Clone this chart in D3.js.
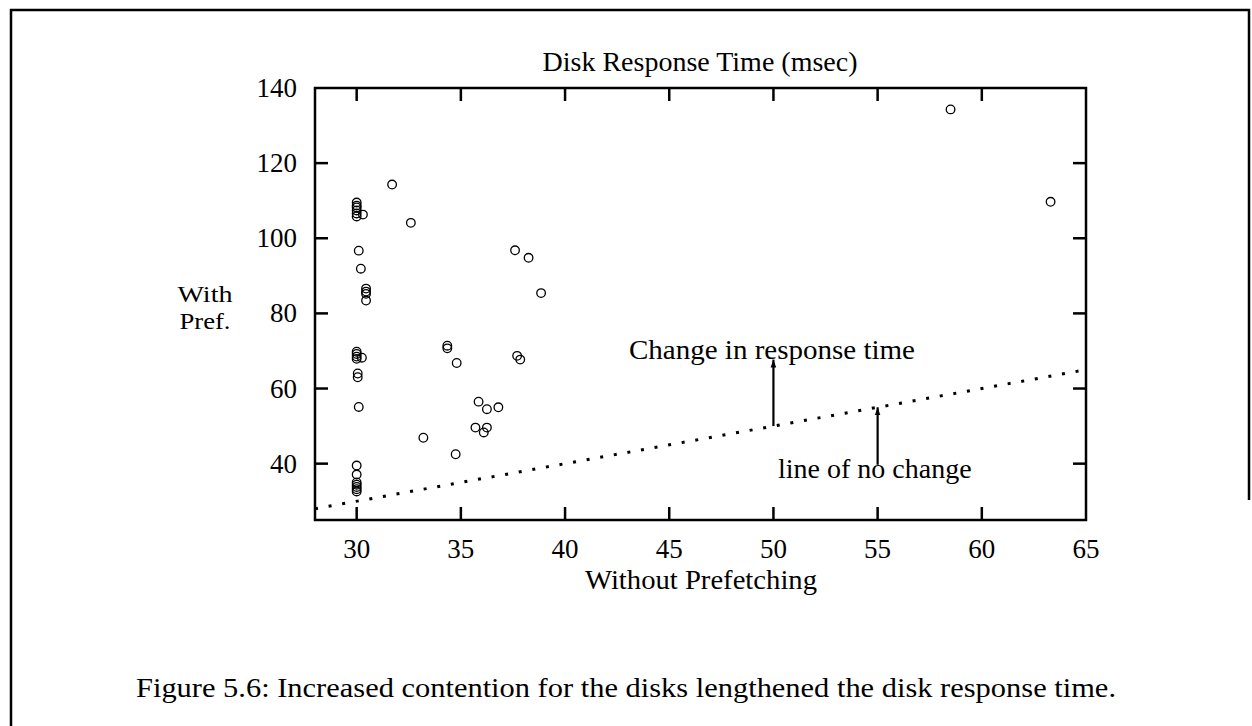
<!DOCTYPE html>
<html>
<head>
<meta charset="utf-8">
<script src="https://cdn.jsdelivr.net/npm/d3@7"></script>
<style>
  html, body { margin: 0; padding: 0; background: #fff; }
  text { font-family: "Liberation Serif", "Times New Roman", serif; fill: #000; }
</style>
</head>
<body>
<svg id="chart" width="1252" height="726"></svg>
<script>
// Data: disk response time (msec) without prefetching (x) vs with prefetching (y)
const withoutPref = [31.7, 32.6, 30.0, 30.0, 30.0, 30.0, 30.0, 30.0, 30.3, 30.1, 30.2,
  30.45, 30.45, 30.45, 30.45, 30.0, 30.0, 30.0, 30.0, 30.25, 30.05, 30.05, 30.1,
  30.0, 30.0, 30.0, 30.0, 30.0, 30.0, 30.0,
  34.35, 34.35, 34.8, 33.2, 34.75, 35.85, 36.25, 36.8, 35.7, 36.1, 36.25,
  37.6, 38.25, 38.85, 37.7, 37.85, 58.5, 63.3];
const withPref = [114.3, 104.1, 109.5, 108.7, 108.2, 107.4, 106.6, 105.8, 106.3, 96.7, 91.9,
  86.6, 85.8, 85.2, 83.4, 69.8, 69.2, 68.5, 67.9, 68.2, 64.0, 63.0, 55.1,
  39.5, 37.1, 35.0, 34.4, 33.8, 33.2, 32.6,
  71.4, 70.7, 66.8, 46.9, 42.5, 56.5, 54.5, 55.0, 49.6, 48.3, 49.6,
  96.8, 94.8, 85.4, 68.7, 67.7, 134.3, 109.7];
const xTicks = [30, 35, 40, 45, 50, 55, 60, 65];
const yTicks = [40, 60, 80, 100, 120, 140];
const xDomain = [28, 65];
const yDomain = [25, 140];
const noChangeLine = [28, 65];          // y = x
const arrowChange = {x: 50, y0: 50, y1: 67.7};
const arrowNoChange = {x: 55, y0: 39.7, y1: 55};
const titleText = "Disk Response Time (msec)";
const xLabelText = "Without Prefetching";
const yLabelLines = ["With", "Pref."];
const captionText = "Figure 5.6: Increased contention for the disks lengthened the disk response time.";
const labelChange = "Change in response time";
const labelNoChange = "line of no change";

const svg = d3.select("#chart");
const L = 315, R = 1086, T = 88, B = 520;
const x = d3.scaleLinear().domain(xDomain).range([L, R]);
const y = d3.scaleLinear().domain(yDomain).range([B, T]);
const FS = 28;

// page frame
svg.append("path")
  .attr("d", `M11,726 L11,10 L1249,10 L1249,500`)
  .attr("fill", "none").attr("stroke", "#000").attr("stroke-width", 2.5);

// plot frame
svg.append("rect").attr("x", L).attr("y", T).attr("width", R - L).attr("height", B - T)
  .attr("fill", "none").attr("stroke", "#000").attr("stroke-width", 2.5);

const TL = 13;
const tickStyle = g => g.attr("stroke", "#000").attr("stroke-width", 2.5);
const inner = xTicks.filter(v => v > xDomain[0] && v < xDomain[1]);
svg.append("g").call(tickStyle).selectAll("line").data(inner).join("line")
  .attr("x1", d => x(d)).attr("x2", d => x(d)).attr("y1", B).attr("y2", B - TL);
svg.append("g").call(tickStyle).selectAll("line").data(inner).join("line")
  .attr("x1", d => x(d)).attr("x2", d => x(d)).attr("y1", T).attr("y2", T + TL);
const innerY = yTicks.filter(v => v > yDomain[0] && v < yDomain[1]);
svg.append("g").call(tickStyle).selectAll("line").data(innerY).join("line")
  .attr("y1", d => y(d)).attr("y2", d => y(d)).attr("x1", L).attr("x2", L + TL);
svg.append("g").call(tickStyle).selectAll("line").data(innerY).join("line")
  .attr("y1", d => y(d)).attr("y2", d => y(d)).attr("x1", R).attr("x2", R - TL);

// tick labels
svg.append("g").selectAll("text").data(xTicks).join("text")
  .attr("x", d => x(d)).attr("y", B + 38).attr("text-anchor", "middle")
  .attr("font-size", 27).text(d => d);
svg.append("g").selectAll("text").data(yTicks).join("text")
  .attr("x", L - 18).attr("y", d => y(d) + 9).attr("text-anchor", "end")
  .attr("font-size", 27).text(d => d);

// titles
svg.append("text").attr("x", 700).attr("y", 71).attr("text-anchor", "middle")
  .attr("font-size", FS).text(titleText);
svg.append("text").attr("x", 701).attr("y", 589).attr("text-anchor", "middle")
  .attr("font-size", FS).attr("textLength", 232).attr("lengthAdjust", "spacingAndGlyphs")
  .text(xLabelText);
svg.append("g").selectAll("text").data(yLabelLines).join("text")
  .attr("x", 205).attr("y", (d, i) => 302 + i * 27).attr("text-anchor", "middle")
  .attr("font-size", 24)
  .attr("textLength", (d, i) => [55, 51][i]).attr("lengthAdjust", "spacingAndGlyphs")
  .text(d => d);
svg.append("text").attr("x", 626).attr("y", 697).attr("text-anchor", "middle")
  .attr("font-size", FS).attr("textLength", 980).attr("lengthAdjust", "spacingAndGlyphs")
  .text(captionText);

// line of no change (dotted)
const line = d3.line().x(d => x(d)).y(d => y(d));
svg.append("path").datum(noChangeLine).attr("d", line)
  .attr("fill", "none").attr("stroke", "#000").attr("stroke-width", 3)
  .attr("stroke-dasharray", "3,10.8");

// arrows
const defs = svg.append("defs");
defs.append("marker").attr("id", "ah").attr("viewBox", "0 0 10 10")
  .attr("refX", 10).attr("refY", 5).attr("markerWidth", 3.6).attr("markerHeight", 3.6)
  .attr("orient", "auto").attr("markerUnits", "strokeWidth")
  .append("path").attr("d", "M0,1.5 L10,5 L0,8.5 Z").attr("fill", "#000");
[arrowChange, arrowNoChange].forEach(a => {
  svg.append("line").attr("x1", x(a.x)).attr("x2", x(a.x))
    .attr("y1", y(a.y0)).attr("y2", y(a.y1))
    .attr("stroke", "#000").attr("stroke-width", 2.2).attr("marker-end", "url(#ah)");
});
svg.append("text").attr("x", 629).attr("y", 359).attr("font-size", FS)
  .attr("textLength", 286).attr("lengthAdjust", "spacingAndGlyphs").text(labelChange);
svg.append("text").attr("x", 778).attr("y", 478).attr("font-size", FS).text(labelNoChange);

// points
svg.append("g").selectAll("circle").data(withoutPref.map((v, i) => [v, withPref[i]])).join("circle")
  .attr("cx", d => x(d[0])).attr("cy", d => y(d[1])).attr("r", 4.3)
  .attr("fill", "none").attr("stroke", "#000").attr("stroke-width", 1.3);
</script>
</body>
</html>
